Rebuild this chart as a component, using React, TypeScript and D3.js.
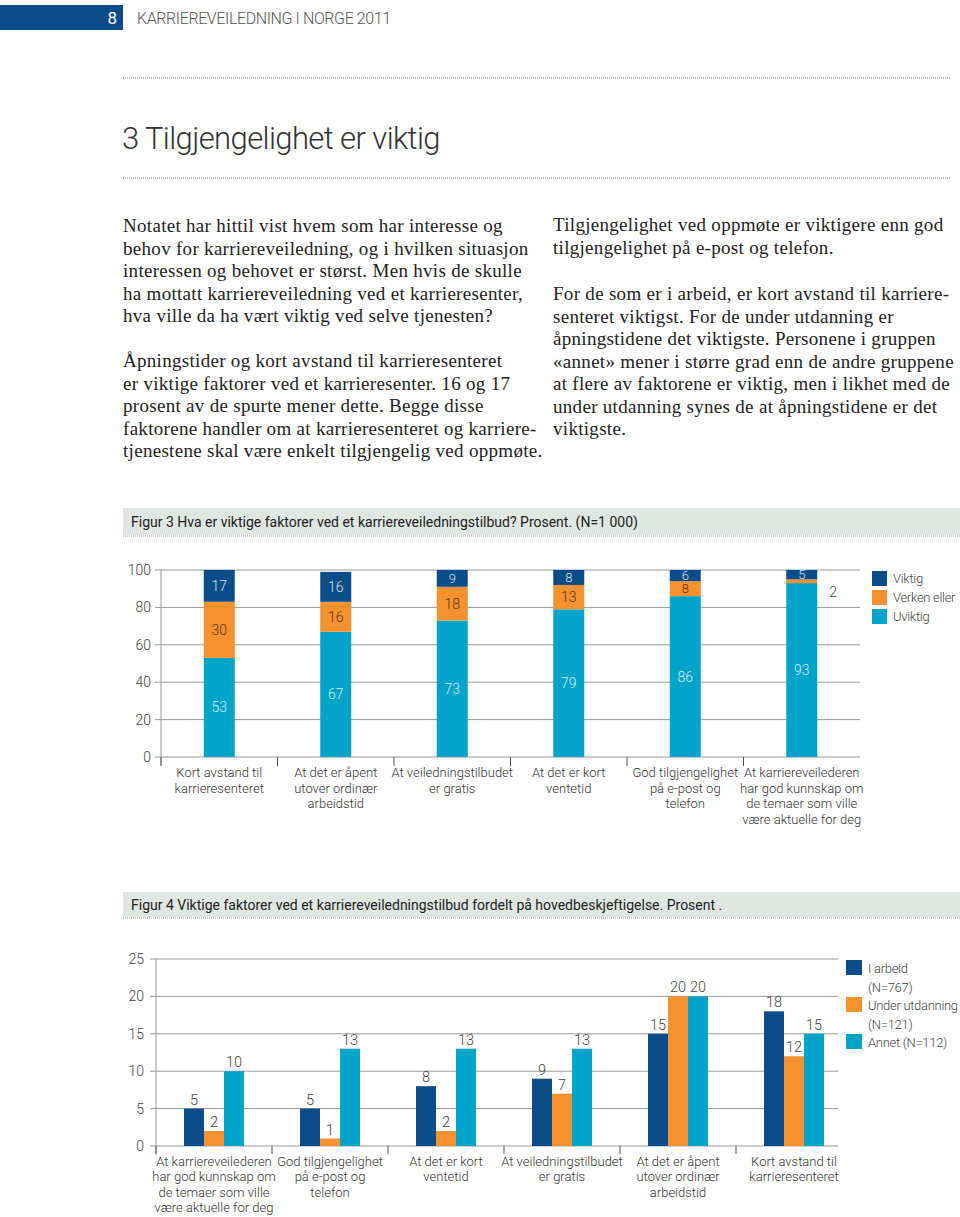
import React from "react";
import * as d3 from "d3";

// ---------- Page text ----------
const headerNumber = "8";
const headerText = "KARRIEREVEILEDNING I NORGE 2011";
const pageTitle = "3 Tilgjengelighet er viktig";
const leftPara1 = [
  "Notatet har hittil vist hvem som har interesse og",
  "behov for karriereveiledning, og i hvilken situasjon",
  "interessen og behovet er størst. Men hvis de skulle",
  "ha mottatt karriereveiledning ved et karrieresenter,",
  "hva ville da ha vært viktig ved selve tjenesten?",
];
const leftPara2 = [
  "Åpningstider og kort avstand til karrieresenteret",
  "er viktige faktorer ved et karrieresenter. 16 og 17",
  "prosent av de spurte mener dette. Begge disse",
  "faktorene handler om at karrieresenteret og karriere-",
  "tjenestene skal være enkelt tilgjengelig ved oppmøte.",
];
const rightPara1 = [
  "Tilgjengelighet ved oppmøte er viktigere enn god",
  "tilgjengelighet på e-post og telefon.",
];
const rightPara2 = [
  "For de som er i arbeid, er kort avstand til karriere-",
  "senteret viktigst. For de under utdanning er",
  "åpningstidene det viktigste. Personene i gruppen",
  "«annet» mener i større grad enn de andre gruppene",
  "at flere av faktorene er viktig, men i likhet med de",
  "under utdanning synes de at åpningstidene er det",
  "viktigste.",
];

// ---------- Figure 3 data ----------
const fig3Title = "Figur 3 Hva er viktige faktorer ved et karriereveiledningstilbud? Prosent. (N=1 000)";
const fig3Categories = [
  ["Kort avstand til", "karrieresenteret"],
  ["At det er åpent", "utover ordinær", "arbeidstid"],
  ["At veiledningstilbudet", "er gratis"],
  ["At det er kort", "ventetid"],
  ["God tilgjengelighet", "på e-post og", "telefon"],
  ["At karriereveilederen", "har god kunnskap om", "de temaer som ville", "være aktuelle for deg"],
];
const fig3Uviktig = [53, 67, 73, 79, 86, 93];
const fig3Verken = [30, 16, 18, 13, 8, 2];
const fig3Viktig = [17, 16, 9, 8, 6, 5];
const fig3Legend = ["Viktig", "Verken eller", "Uviktig"];
const fig3Ticks = [0, 20, 40, 60, 80, 100];

// ---------- Figure 4 data ----------
const fig4Title = "Figur 4 Viktige faktorer ved et karriereveiledningstilbud fordelt på hovedbeskjeftigelse. Prosent .";
const fig4Categories = [
  ["At karriereveilederen", "har god kunnskap om", "de temaer som ville", "være aktuelle for deg"],
  ["God tilgjengelighet", "på e-post og", "telefon"],
  ["At det er kort", "ventetid"],
  ["At veiledningstilbudet", "er gratis"],
  ["At det er åpent", "utover ordinær", "arbeidstid"],
  ["Kort avstand til", "karrieresenteret"],
];
const fig4IArbeid = [5, 5, 8, 9, 15, 18];
const fig4UnderUtdanning = [2, 1, 2, 7, 20, 12];
const fig4Annet = [10, 13, 13, 13, 20, 15];
const fig4Legend = [["I arbeid", "(N=767)"], ["Under utdanning", "(N=121)"], ["Annet (N=112)"]];
const fig4Ticks = [0, 5, 10, 15, 20, 25];

const DARK = "#0b4d8a";
const ORANGE = "#f5922f";
const LIGHT = "#00a4c8";
const GRID = "#999999";
const SANS = "Roboto, 'Open Sans', sans-serif";
const SERIF = "'Liberation Serif', 'DejaVu Serif', serif";

function Figure3() {
  const y = d3.scaleLinear().domain([0, 100]).range([757, 570]);
  const x = d3
    .scaleBand<number>()
    .domain(d3.range(fig3Categories.length))
    .range([161, 860])
    .paddingInner(0.734)
    .paddingOuter(0.367);
  const step = x.step();
  const left = 161;
  const rows = fig3Categories.map((_, i) => ({
    i,
    Uviktig: fig3Uviktig[i],
    Verken: fig3Verken[i],
    Viktig: fig3Viktig[i],
  }));
  const keys = ["Uviktig", "Verken", "Viktig"];
  const colors: Record<string, string> = { Uviktig: LIGHT, Verken: ORANGE, Viktig: DARK };
  const textColors: Record<string, string> = { Uviktig: "#d6f1f8", Verken: "#5a3210", Viktig: "#d5e4f2" };
  const stacked = d3.stack<any>().keys(keys)(rows);
  const legendColors = [DARK, ORANGE, LIGHT];
  return (
    <g fontFamily={SANS}>
      {fig3Ticks.map((t) => (
        <g key={t}>
          <line x1={155} x2={860} y1={y(t)} y2={y(t)} stroke={GRID} strokeWidth={1} />
          <text x={151} y={y(t) + 5} textAnchor="end" fontSize={14} fill="#444" fontWeight={300}>
            {t}
          </text>
        </g>
      ))}
      <line x1={left} x2={left} y1={y(100)} y2={766} stroke={GRID} />
      {d3.range(fig3Categories.length).map((i) => (
        <line key={i} x1={left + i * step} x2={left + i * step} y1={y(0)} y2={766} stroke="#555" />
      ))}
      {stacked.map((s) => (
        <g key={s.key}>
          {s.map((d, i) => (
            <rect
              key={i}
              x={x(i)}
              width={x.bandwidth()}
              y={y(d[1])}
              height={y(d[0]) - y(d[1])}
              fill={colors[s.key]}
            />
          ))}
        </g>
      ))}
      {stacked.map((s) =>
        s.map((d, i) => {
          const v = d[1] - d[0];
          const outside = v < 4;
          const small = v < 10;
          return (
            <text
              key={s.key + i}
              x={outside ? (x(i) as number) + x.bandwidth() + 12 : (x(i) as number) + x.bandwidth() / 2}
              y={outside ? y(d[1]) + 18 : y((d[0] + d[1]) / 2) + (small ? 4.5 : 5)}
              textAnchor={outside ? "start" : "middle"}
              fontSize={outside ? 14 : small ? 13 : 14}
              fontWeight={300}
              fill={outside ? "#444" : textColors[s.key]}
            >
              {v}
            </text>
          );
        })
      )}
      {fig3Categories.map((lines, i) => (
        <text key={i} textAnchor="middle" fontSize={13} fill="#333" fontWeight={300}>
          {lines.map((l, j) => (
            <tspan key={j} x={(x(i) as number) + x.bandwidth() / 2} y={777 + j * 15.5}>
              {l}
            </tspan>
          ))}
        </text>
      ))}
      {fig3Legend.map((l, i) => (
        <g key={l}>
          <rect x={872} y={571 + i * 19} width={15} height={15} fill={legendColors[i]} />
          <text x={893} y={583 + i * 19} fontSize={13} letterSpacing={-0.3} fill="#444" fontWeight={300}>
            {l}
          </text>
        </g>
      ))}
    </g>
  );
}

function Figure4() {
  const y = d3.scaleLinear().domain([0, 25]).range([1146, 959]);
  const x0 = d3
    .scaleBand<number>()
    .domain(d3.range(fig4Categories.length))
    .range([156, 852])
    .padding(0);
  const keys = ["a", "u", "n"];
  const x1 = d3.scaleBand<string>().domain(keys).range([0, 60]).padding(0);
  const series: Record<string, number[]> = { a: fig4IArbeid, u: fig4UnderUtdanning, n: fig4Annet };
  const colors: Record<string, string> = { a: DARK, u: ORANGE, n: LIGHT };
  const off = (x0.bandwidth() - 60) / 2;
  const legendColors = [DARK, ORANGE, LIGHT];
  let lineIdx = 0;
  return (
    <g fontFamily={SANS}>
      {fig4Ticks.map((t) => (
        <g key={t}>
          <line x1={150} x2={838} y1={y(t)} y2={y(t)} stroke={GRID} strokeWidth={1} />
          <text x={144} y={y(t) + 5} textAnchor="end" fontSize={14} fill="#444" fontWeight={300}>
            {t}
          </text>
        </g>
      ))}
      <line x1={156} x2={156} y1={y(25)} y2={1155} stroke={GRID} />
      {d3.range(fig4Categories.length).map((i) => (
        <line key={i} x1={156 + i * x0.step()} x2={156 + i * x0.step()} y1={y(0)} y2={1154} stroke="#555" />
      ))}
      {fig4Categories.map((_, i) => (
        <g key={i} transform={`translate(${(x0(i) as number) + off},0)`}>
          {keys.map((k) => (
            <g key={k}>
              <rect
                x={x1(k)}
                width={x1.bandwidth()}
                y={y(series[k][i])}
                height={y(0) - y(series[k][i])}
                fill={colors[k]}
              />
              <text
                x={(x1(k) as number) + x1.bandwidth() / 2}
                y={y(series[k][i]) - 4}
                textAnchor="middle"
                fontSize={14.5}
                fill="#444"
                fontWeight={300}
              >
                {series[k][i]}
              </text>
            </g>
          ))}
        </g>
      ))}
      {fig4Categories.map((lines, i) => (
        <text key={i} textAnchor="middle" fontSize={13} fill="#333" fontWeight={300}>
          {lines.map((l, j) => (
            <tspan key={j} x={(x0(i) as number) + x0.bandwidth() / 2} y={1166 + j * 15.3}>
              {l}
            </tspan>
          ))}
        </text>
      ))}
      {fig4Legend.map((lines, i) => {
        const startIdx = lineIdx;
        lineIdx += lines.length;
        return (
          <g key={i}>
            <rect x={846} y={960 + startIdx * 18.5} width={16} height={15} fill={legendColors[i]} />
            {lines.map((l, j) => (
              <text
                key={j}
                x={868}
                y={973 + (startIdx + j) * 18.5}
                fontSize={13}
                letterSpacing={-0.3}
                fill="#444"
                fontWeight={300}
              >
                {l}
              </text>
            ))}
          </g>
        );
      })}
    </g>
  );
}

function Para({ lines, x, y0 }: { lines: string[]; x: number; y0: number }) {
  return (
    <text fontFamily={SERIF} fontSize={19} letterSpacing={0.3} fill="#222">
      {lines.map((l, i) => (
        <tspan key={i} x={x} y={y0 + i * 22.5}>
          {l}
        </tspan>
      ))}
    </text>
  );
}

export default function App() {
  return (
    <svg
      width={960}
      height={1217}
      viewBox="0 0 960 1217"
      style={{ position: "absolute", left: 0, top: 0, background: "#fff" }}
    >
      <rect x={0} y={0} width={960} height={1217} fill="#fff" />
      {/* Header */}
      <rect x={0} y={5} width={123} height={25} fill="#0b4a8b" />
      <text x={117} y={24} textAnchor="end" fontFamily={SANS} fontSize={17} fill="#fff">
        {headerNumber}
      </text>
      <text x={137} y={24} fontFamily={SANS} fontSize={16} letterSpacing={-0.4} fill="#555" fontWeight={300}>
        {headerText}
      </text>
      <line x1={123} x2={950} y1={78} y2={78} stroke="#888" strokeDasharray="1,1" />
      <text x={122} y={149} fontFamily={SANS} fontSize={31} letterSpacing={-0.6} fill="#333" fontWeight={300}>
        {pageTitle}
      </text>
      <line x1={123} x2={950} y1={178} y2={178} stroke="#888" strokeDasharray="1,1" />

      {/* Body text */}
      <Para lines={leftPara1} x={123} y0={232} />
      <Para lines={leftPara2} x={123} y0={367} />
      <Para lines={rightPara1} x={553} y0={231} />
      <Para lines={rightPara2} x={553} y0={300} />

      {/* Figure 3 caption */}
      <rect x={123} y={508} width={837} height={27} fill="#dfe7e3" />
      <line x1={123} x2={960} y1={536} y2={536} stroke="#999" strokeDasharray="1,1" />
      <text x={131} y={527} fontFamily={SANS} fontSize={14} fill="#222">
        {fig3Title}
      </text>
      <Figure3 />

      {/* Figure 4 caption */}
      <rect x={123} y={892} width={837} height={25} fill="#dfe7e3" />
      <line x1={123} x2={960} y1={918} y2={918} stroke="#999" strokeDasharray="1,1" />
      <text x={131} y={910} fontFamily={SANS} fontSize={14} fill="#222">
        {fig4Title}
      </text>
      <Figure4 />
    </svg>
  );
}
